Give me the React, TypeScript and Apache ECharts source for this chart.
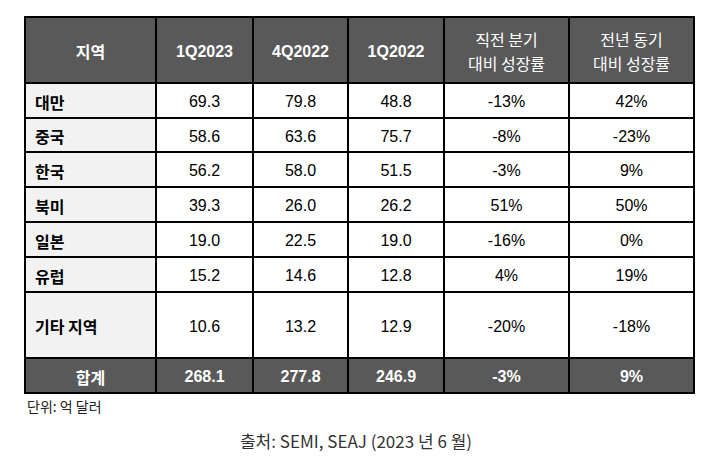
import React, { useEffect, useRef } from "react";
import * as echarts from "echarts";

const headers = ["지역", "1Q2023", "4Q2022", "1Q2022", "직전 분기\n대비 성장률", "전년 동기\n대비 성장률"];
const regions = ["대만", "중국", "한국", "북미", "일본", "유럽", "기타 지역"];
const q1y2023 = [69.3, 58.6, 56.2, 39.3, 19.0, 15.2, 10.6];
const q4y2022 = [79.8, 63.6, 58.0, 26.0, 22.5, 14.6, 13.2];
const q1y2022 = [48.8, 75.7, 51.5, 26.2, 19.0, 12.8, 12.9];
const qoqGrowth = [-13, -8, -3, 51, -16, 4, -20];
const yoyGrowth = [42, -23, 9, 50, 0, 19, -18];
const totalLabel = "합계";
const totals = [268.1, 277.8, 246.9];
const totalQoq = -3;
const totalYoy = 9;
const unitNote = "단위: 억 달러";
const sourceNote = "출처: SEMI, SEAJ (2023 년 6 월)";

// layout (pixel-unit axis edges)
const colEdges = [25, 156, 253, 348, 444, 569, 694];
const rowEdges = [17, 83, 118, 152, 187, 222, 257, 292, 358, 393];

type Cell = { c: number; r: number; text: string; kind: "head" | "region" | "body" | "total" };

const pct = (v: number) => `${v}%`;

function buildCells(): Cell[] {
  const cells: Cell[] = [];
  headers.forEach((h, c) => cells.push({ c, r: 0, text: h, kind: "head" }));
  regions.forEach((name, i) => {
    const r = i + 1;
    cells.push({ c: 0, r, text: name, kind: "region" });
    cells.push({ c: 1, r, text: q1y2023[i].toFixed(1), kind: "body" });
    cells.push({ c: 2, r, text: q4y2022[i].toFixed(1), kind: "body" });
    cells.push({ c: 3, r, text: q1y2022[i].toFixed(1), kind: "body" });
    cells.push({ c: 4, r, text: pct(qoqGrowth[i]), kind: "body" });
    cells.push({ c: 5, r, text: pct(yoyGrowth[i]), kind: "body" });
  });
  const tr = regions.length + 1;
  cells.push({ c: 0, r: tr, text: totalLabel, kind: "total" });
  totals.forEach((v, i) => cells.push({ c: i + 1, r: tr, text: v.toFixed(1), kind: "total" }));
  cells.push({ c: 4, r: tr, text: pct(totalQoq), kind: "total" });
  cells.push({ c: 5, r: tr, text: pct(totalYoy), kind: "total" });
  return cells;
}

const FONT = "'Liberation Sans', Arial, 'Noto Sans CJK KR', sans-serif";
const KFONT = "'Noto Sans CJK KR', 'Liberation Sans', sans-serif";

export default function App() {
  const ref = useRef<HTMLDivElement>(null);
  useEffect(() => {
    document.body.style.margin = "0";
    if (!ref.current) return;
    const chart = echarts.init(ref.current, undefined, { renderer: "svg" });
    const cells = buildCells();
    const data = cells.map((cell) => [
      colEdges[cell.c],
      colEdges[cell.c + 1],
      rowEdges[cell.r],
      rowEdges[cell.r + 1],
    ]);
    chart.setOption({
      animation: false,
      backgroundColor: "#ffffff",
      grid: { left: 25, right: 720 - 694, top: 17, bottom: 466 - 393 },
      xAxis: { type: "value", min: 25, max: 694, show: false },
      yAxis: { type: "value", min: 17, max: 393, inverse: true, show: false },
      series: [
        {
          type: "custom",
          data,
          renderItem: (params: any, api: any) => {
            const cell = cells[params.dataIndex];
            const p0 = api.coord([api.value(0), api.value(2)]);
            const p1 = api.coord([api.value(1), api.value(3)]);
            const w = p1[0] - p0[0];
            const h = p1[1] - p0[1];
            let fill = "#ffffff";
            if (cell.kind === "head" || cell.kind === "total") fill = "#595959";
            else if (cell.kind === "region") fill = "#f2f2f2";
            const isDark = cell.kind === "head" || cell.kind === "total";
            const isKoreanHead = cell.kind === "head" && cell.c >= 4;
            const left = cell.kind === "region";
            const bold = cell.kind !== "body" && !isKoreanHead;
            const lines = cell.text.split("\n");
            const lineGap = 24;
            const children: any[] = [
              {
                type: "rect",
                shape: { x: p0[0], y: p0[1], width: w, height: h },
                style: { fill, stroke: "#000000", lineWidth: 2 },
              },
            ];
            lines.forEach((line, li) => {
              const offset = (li - (lines.length - 1) / 2) * lineGap;
              children.push({
                type: "text",
                x: left ? p0[0] + 10 : p0[0] + w / 2,
                y: p0[1] + h / 2 + 1 + offset,
                style: {
                  text: line,
                  fill: isDark ? "#ffffff" : "#000000",
                  font: `${bold ? "bold " : ""}16px ${isKoreanHead || cell.c === 0 ? KFONT : FONT}`,
                  align: left ? "left" : "center",
                  verticalAlign: "middle",
                },
              });
            });
            return { type: "group", children };
          },
        },
      ],
      graphic: [
        {
          type: "text",
          left: 27,
          top: 399,
          style: { text: unitNote, fill: "#222222", font: `14px ${KFONT}` },
        },
        {
          type: "text",
          x: 356,
          y: 440,
          style: {
            text: sourceNote,
            fill: "#333333",
            font: `17px ${KFONT}`,
            align: "center",
            verticalAlign: "middle",
          },
        },
      ],
    });
    return () => chart.dispose();
  }, []);
  return <div ref={ref} style={{ width: 720, height: 466, position: "absolute", left: 0, top: 0 }} />;
}
